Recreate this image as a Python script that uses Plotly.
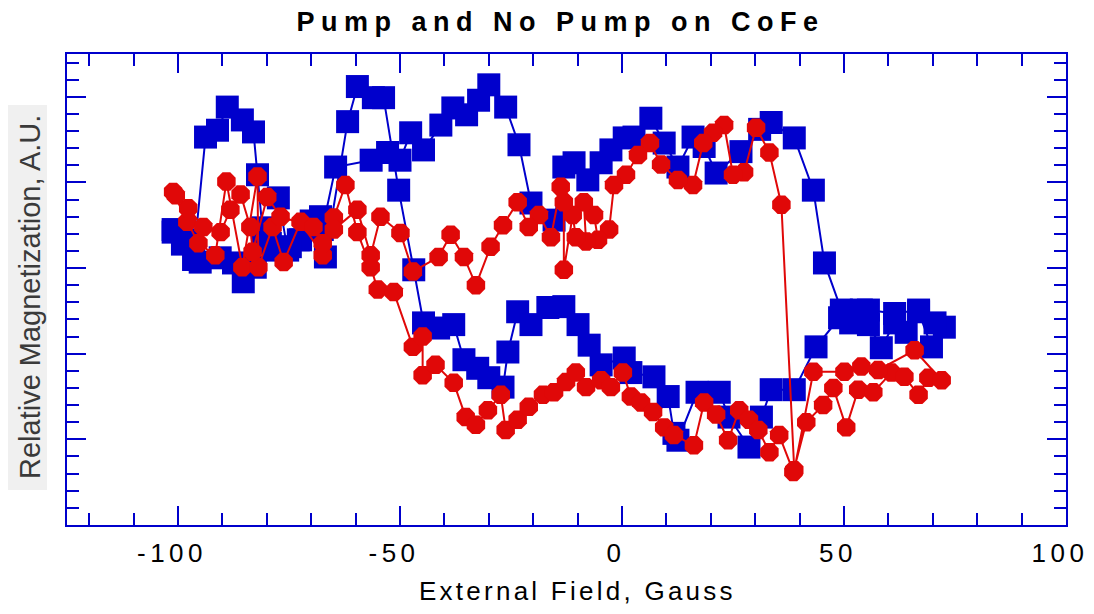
import plotly.graph_objects as go

# ---------------- data (External Field in Gauss, Relative Magnetization in A.U.) -------------
blue_up_x = [-101.1, -99.0, -96.5, -93.8, -91.1, -88.9, -85.5, -83.0, -82.1, -81.0, -79.2, -77.4,
             -75.3, -72.9, -70.2, -67.9, -66.8, -61.8, -59.6, -56.0, -53.7, -50.3, -46.9, -44.7,
             -41.3, -37.9, -35.6, -32.5, -30.0, -26.8, -25.7, -23.5, -20.5, -16.7, -13.1, -9.9,
             -7.4, -4.7, 0.5, 2.0, 7.2, 10.4, 11.7, 12.6, 16.9, 21.9, 24.1, 28.6, 31.4, 33.6,
             38.8, 43.7, 49.0, 51.5, 55.5, 58.4, 61.4, 64.0, 66.8, 69.7, 72.6]
blue_up_y = [3.42, 3.28, 3.10, 4.53, 4.61, 4.88, 4.73, 4.59, 4.09, 3.47, 3.29, 3.82,
             3.21, 3.33, 3.50, 3.60, 3.13, 4.71, 5.12, 4.99, 4.99, 3.91, 2.98, 2.36,
             2.30, 2.34, 1.93, 1.83, 1.72, 1.61, 2.02, 2.49, 2.34, 2.54, 2.55, 2.34,
             2.10, 1.87, 1.95, 1.78, 1.73, 1.50, 1.07, 0.99, 1.55, 1.55, 1.26, 0.91, 1.26, 1.58,
             1.58, 2.08, 2.42, 2.36, 2.34, 2.07, 2.36, 2.25, 2.49, 2.08, 2.31]
blue_down_x = [70.5, 66.8, 61.4, 55.5, 53.9, 49.4, 45.6, 43.1, 38.8, 33.6, 31.0, 26.8, 21.2,
               18.5, 16.0, 12.6, 9.5, 6.5, 2.7, 0.5, -2.5, -4.7, -7.7, -10.8, -13.1, -15.3,
               -20.5, -23.2, -26.2, -30.0, -32.3, -35.0, -38.1, -40.8, -44.7, -47.6, -50.0,
               -52.8, -56.5, -64.5, -67.5, -70.0, -72.4, -74.7, -78.5, -80.8, -82.6, -85.3,
               -87.5, -90.5, -95.0, -97.9, -101.1]
blue_down_y = [2.36, 2.51, 2.47, 2.51, 2.51, 2.51, 3.06, 3.91, 4.52, 4.70, 4.62, 4.36, 4.11,
               4.42, 4.53, 4.18, 4.46, 4.75, 4.53, 4.52, 4.38, 4.23, 4.03, 4.23, 4.18, 3.56,
               3.76, 4.44, 4.88, 5.14, 4.96, 4.79, 4.87, 4.67, 4.38, 4.58, 4.26,
               4.35, 4.26, 4.18, 3.45, 3.55, 3.33, 3.25, 3.21, 3.33, 3.01, 2.84,
               3.06, 3.12, 3.07, 3.33, 3.45]

red_up_x = [-101.1, -97.9, -95.4, -91.6, -89.1, -85.5, -82.1, -81.9, -78.7, -76.2, -72.4, -67.4,
            -64.9, -62.3, -59.6, -56.6, -55.0, -51.4, -47.1, -44.9, -44.9, -42.0, -37.9, -35.2,
            -32.9, -30.2, -27.3, -26.2, -23.5, -21.0, -17.8, -15.3, -12.6, -10.4, -8.1, -4.7,
            -2.5, 0.2, 2.0, 4.3, 7.0, 9.5, 11.7, 16.2, 18.5, 21.2, 23.9, 26.4, 28.6, 30.7,
            33.2, 35.4, 38.6, 41.5, 45.3, 47.6, 50.5, 53.2, 56.6, 60.7, 63.6, 66.8, 69.0, 72.0]
red_up_y = [3.89, 3.54, 3.29, 3.15, 4.01, 3.01, 4.07, 3.01, 3.48, 3.07, 3.54, 3.15,
            3.59, 3.97, 3.42, 3.01, 2.75, 2.72, 2.08, 2.20, 1.75, 1.87, 1.66, 1.26,
            1.17, 1.34, 1.52, 1.11, 1.23, 1.38, 1.52, 1.55, 1.67, 1.78, 1.61, 1.69,
            1.61, 1.78, 1.50, 1.43, 1.32, 1.14, 1.05, 0.93, 1.43, 1.29, 0.99, 1.34, 1.23, 1.11,
            0.85, 1.05, 0.62, 1.20, 1.40, 1.60, 1.14, 1.58, 1.55, 1.78, 1.73, 1.52, 1.72, 1.69]
red_down_x = [65.9, 57.7, 53.9, 50.1, 43.1, 38.8, 35.9, 33.2, 30.2, 27.5, 25.0, 23.0, 20.5,
              18.3, 16.0, 12.6, 8.8, 6.3, 3.6, 0.9, -1.8, -2.9, -5.4, -6.3, -8.6, -8.1,
              -10.4, -11.1, -13.1, -13.1, -13.8, -16.0, -18.7, -21.0, -23.5, -26.8, -29.6,
              -32.9, -35.6, -38.6, -41.3, -47.1, -49.9, -54.4, -56.6, -59.6, -64.9, -67.4,
              -69.5, -76.9, -79.9, -83.2, -83.7, -85.9, -88.2, -90.4, -94.3, -97.7, -100.5]
red_down_y = [2.04, 1.81, 1.85, 1.79, 1.79, 0.64, 3.74, 4.35, 4.64, 4.12, 4.09, 4.67, 4.58,
              4.46, 3.97, 4.03, 4.21, 4.46, 4.32, 4.09, 3.97, 3.45, 3.33, 3.62, 3.77, 3.31,
              3.36, 3.62, 2.98, 3.77, 3.95, 3.36, 3.62, 3.48, 3.77, 3.50, 3.25,
              2.80, 3.13, 3.39, 3.13, 2.96, 3.41, 3.60, 3.15, 3.68, 3.45, 3.29,
              3.48, 3.60, 3.83, 3.19, 3.48, 3.86, 3.68, 3.42, 3.48, 3.70, 3.85]

x_tick_vals = [-100, -50, 0, 50, 100]
x_tick_labels = ["-100", "-50", "0", "50", "100"]

title_text = "Pump and No Pump on CoFe"
x_title_text = "External Field, Gauss"
y_title_text = "Relative Magnetization, A.U."

# ---------------- styling ----------------
BLUE = "#0000CC"
RED = "#E00808"
FONT = "Arial, Liberation Sans, Helvetica, sans-serif"

# the page body adds an 8 px offset; figure sized so it ends at the window edge
W, H = 1086, 606
ML, MR, MT, MB = 59, 28, 46, 89
PW, PH = W - ML - MR, H - MT - MB

fig = go.Figure()
fig.add_trace(go.Scatter(
    x=blue_up_x + blue_down_x, y=blue_up_y + blue_down_y,
    mode="lines+markers", name="No Pump",
    line=dict(color=BLUE, width=2),
    marker=dict(symbol="square", size=23, color=BLUE, line=dict(width=0)),
))
fig.add_trace(go.Scatter(
    x=red_up_x + red_down_x, y=red_up_y + red_down_y,
    mode="lines+markers", name="Pump",
    line=dict(color=RED, width=2),
    marker=dict(symbol="octagon", size=20, color=RED, line=dict(width=0)),
))

axis_common = dict(
    showline=True, linecolor=BLUE, linewidth=2, mirror="allticks",
    ticks="inside", tickcolor=BLUE, tickwidth=2, ticklen=19,
    showgrid=False, zeroline=False, automargin=False,
)

fig.update_xaxes(
    range=[-125, 100], tickmode="array", tickvals=x_tick_vals,
    ticktext=[f'<span style="letter-spacing:4.5px">{t}</span>' for t in x_tick_labels],
    tickfont=dict(family=FONT, size=26, color="#000000"),
    ticklabelstandoff=4, ticklabelshift=-6, ticklabeloverflow="allow",
    minor=dict(tickmode="linear", tick0=0, dtick=10, ticks="inside", ticklen=12,
               tickwidth=2, tickcolor=BLUE, showgrid=False),
    **axis_common,
)
fig.update_yaxes(
    range=[0, 5.5], tickmode="linear", tick0=0, dtick=1, showticklabels=False,
    minor=dict(tickmode="linear", tick0=0, dtick=0.2, ticks="inside", ticklen=12,
               tickwidth=2, tickcolor=BLUE, showgrid=False),
    **axis_common,
)

fig.update_layout(
    width=W, height=H,
    margin=dict(l=ML, r=MR, t=MT, b=MB, pad=0, autoexpand=False),
    paper_bgcolor="white", plot_bgcolor="white",
    showlegend=False,
    title=dict(
        text=f'<span style="letter-spacing:6.5px">{title_text}</span>',
        font=dict(family=FONT, size=27, color="#000000", weight="bold"),
        x=552.5 / W, xanchor="center", xref="container",
        y=1 - 14 / H, yanchor="middle", yref="container",
    ),
    shapes=[dict(type="rect", xref="paper", yref="paper", layer="below",
                 x0=(0 - ML) / PW, x1=(39 - ML) / PW,
                 y0=(H - MB - 482) / PH, y1=(H - MB - 97) / PH,
                 fillcolor="#f0f0f0", line=dict(width=0))],
    annotations=[
        dict(text=f'<span style="letter-spacing:3.25px">{x_title_text}</span>',
             xref="paper", yref="paper", x=(569 - ML) / PW, y=-(583 - (H - MB)) / PH,
             xanchor="center", yanchor="middle", showarrow=False,
             font=dict(family=FONT, size=26, color="#000000")),
        dict(text=y_title_text, textangle=-90,
             xref="paper", yref="paper", x=(22 - ML) / PW, y=((H - MB) - 289) / PH,
             xanchor="center", yanchor="middle", showarrow=False,
             font=dict(family=FONT, size=29, color="#3a3a3a")),
    ],
)

fig.write_html("out.html")
